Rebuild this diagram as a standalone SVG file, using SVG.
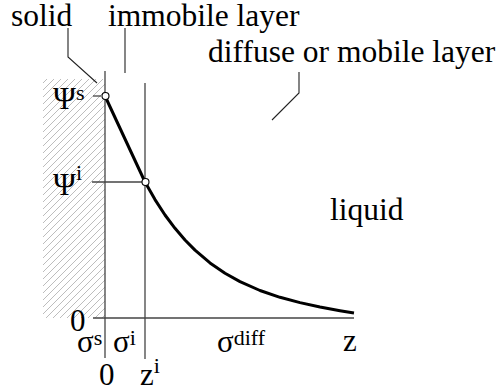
<svg xmlns="http://www.w3.org/2000/svg" width="502" height="391" viewBox="0 0 502 391">
<style>
text{font-family:'Liberation Serif','DejaVu Serif',serif;font-size:31px;fill:#000}
.big{font-size:31.5px}
.sup{font-size:22px}
.thin{stroke:#444;stroke-width:1.3;fill:none}
.lead{stroke:#222;stroke-width:1.1;fill:none}
.dot{fill:#fff;stroke:#000;stroke-width:1.1}
</style>
<defs>
<pattern id="hatch" patternUnits="userSpaceOnUse" width="7" height="7">
<path d="M0,7 L7,0 M-1,1 L1,-1 M6,8 L8,6" stroke="#b5b5b5" stroke-width="0.9"/>
</pattern>
</defs>
<g font-family="Liberation Serif, DejaVu Serif, serif">
<g id="solid">
<rect x="43" y="79" width="62" height="239" fill="url(#hatch)"/>
<text class="big" x="11" y="26">solid</text>
</g>
<g id="immobile-layer">
<text class="big" x="108" y="26">immobile layer</text>
</g>
<g id="diffuse-layer">
<text class="big" x="208" y="62">diffuse or mobile layer</text>
</g>
<g id="liquid">
<text class="big" x="330" y="220">liquid</text>
</g>
<g id="axes">
<line class="thin" x1="105" y1="71" x2="105" y2="358"/>
<line class="thin" x1="145" y1="83" x2="145" y2="359"/>
<line class="thin" x1="93" y1="318" x2="354" y2="318" style="stroke-width:1.6"/>
<line class="thin" x1="93" y1="96" x2="101" y2="96"/>
<line class="thin" x1="92" y1="182" x2="142" y2="182"/>
</g>
<g id="labels">
<text x="53" y="109">Ψ<tspan class="sup" dy="-9">s</tspan></text>
<text x="53" y="195">Ψ<tspan class="sup" dy="-15">i</tspan></text>
<text x="70" y="331">0</text>
<text x="77" y="352">σ<tspan class="sup" dy="-7">s</tspan></text>
<text x="113" y="352">σ<tspan class="sup" dy="-7">i</tspan></text>
<text x="217" y="352">σ<tspan class="sup" dy="-7">diff</tspan></text>
<text x="343" y="351">z</text>
<text x="99" y="385">0</text>
<text x="140" y="385">z<tspan class="sup" dy="-12">i</tspan></text>
</g>
<g id="connectors">
<polyline class="lead" points="68,28 68,57 97,83"/>
<line class="lead" x1="125" y1="28" x2="125" y2="73"/>
<polyline class="lead" points="299,72 299,93 272,120"/>
</g>
<g id="curve">
<polyline fill="none" stroke="#000" stroke-width="3" stroke-linejoin="round" points="105,96 145,182 155,199.6 165,215 175,228.3 185,240 195,250.1 210,262.9 225,273.2 240,281.6 260,290.5 280,297.3 300,302.6 320,307 340,310.7 354,313"/>
<circle class="dot" cx="105.5" cy="96" r="3.5"/>
<circle class="dot" cx="145.5" cy="182" r="3.5"/>
</g>
</g>
</svg>
